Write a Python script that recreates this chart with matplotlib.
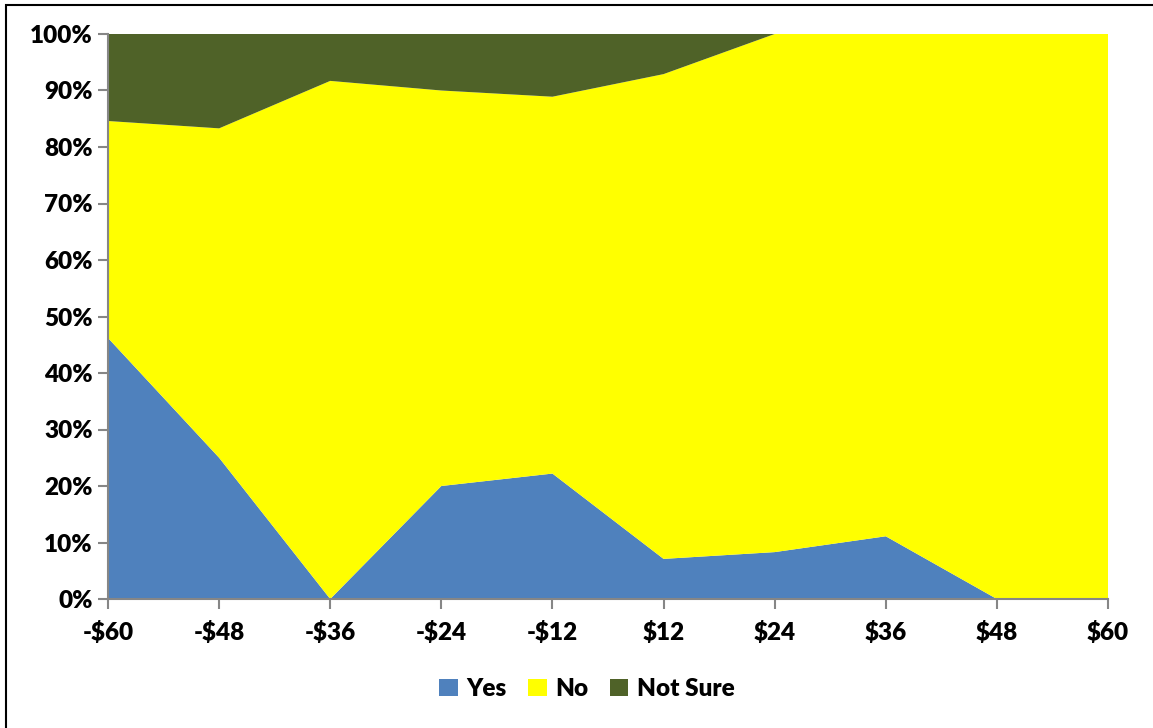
import numpy as np
import matplotlib.pyplot as plt
from matplotlib.patches import Rectangle
from matplotlib.ticker import PercentFormatter

prices = ["-$60", "-$48", "-$36", "-$24", "-$12", "$12", "$24", "$36", "$48", "$60"]
yes = [46.2, 25.0, 0.0, 20.0, 22.2, 7.1, 8.3, 11.1, 0.0, 0.0]
no = [38.4, 58.3, 91.7, 70.0, 66.7, 85.8, 91.7, 88.9, 100.0, 100.0]
not_sure = [15.4, 16.7, 8.3, 10.0, 11.1, 7.1, 0.0, 0.0, 0.0, 0.0]

colors = ["#4F81BD", "#FFFF00", "#4F6228"]
labels = ["Yes", "No", "Not Sure"]

plt.rcParams['font.family'] = ['Lato', 'DejaVu Sans']
plt.rcParams['font.weight'] = 'heavy'

fig = plt.figure(figsize=(11.53, 7.28), dpi=100)
ax = fig.add_axes([108 / 1153, 1 - 599 / 728, 1000 / 1153, 565 / 728])

x = np.arange(len(prices))
ax.stackplot(x, yes, no, not_sure, colors=colors, labels=labels, linewidth=0)

ax.set_xlim(0, len(prices) - 1)
ax.set_ylim(0, 100)
ax.set_xticks(x)
ax.set_xticklabels(prices)
ax.set_yticks(np.arange(0, 101, 10))
ax.yaxis.set_major_formatter(PercentFormatter(decimals=0))

for side in ["top", "right"]:
    ax.spines[side].set_visible(False)
for side in ["left", "bottom"]:
    ax.spines[side].set_color("#868686")
    ax.spines[side].set_linewidth(1.5)
ax.tick_params(axis="both", colors="#868686", length=7, width=1.5, direction="out",
               labelcolor="black", labelsize=17.5)
ax.tick_params(axis="x", pad=9)
ax.tick_params(axis="y", pad=4)
for lbl in ax.get_xticklabels() + ax.get_yticklabels():
    lbl.set_fontweight("heavy")

leg = fig.legend(loc="center", bbox_to_anchor=(587 / 1153, 1 - 689 / 728), ncol=3,
                 frameon=False, fontsize=17.5, handlelength=0.75, handleheight=0.75,
                 columnspacing=0.9, handletextpad=0.35)
for t in leg.get_texts():
    t.set_fontweight("heavy")

# outer chart frame
fig.patches.append(Rectangle((6 / 1153, -0.1), 1.2, 0.1 + (728 - 5) / 728,
                             transform=fig.transFigure, fill=False,
                             edgecolor="black", linewidth=1.5))

fig.savefig("out.png", dpi=100)
